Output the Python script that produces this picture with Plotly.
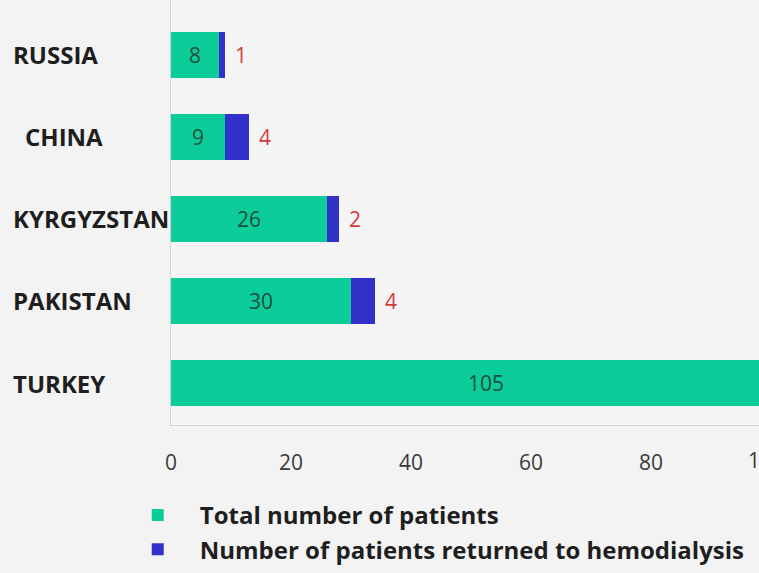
"""Kidney transplant patients by country - horizontal stacked bar"""

import plotly.graph_objects as go

# data (bottom -> top)
countries = ["TURKEY", "PAKISTAN", "KYRGYZSTAN", "CHINA", "RUSSIA"]
total_patients = [105, 30, 26, 9, 8]
returned_hd = [0, 4, 2, 4, 1]
x_ticks = [0, 20, 40, 60, 80, 100]

GREEN = "#0ccd9a"
BLUE = "#3131c9"
BG = "#f3f3f3"
FONT = "Open Sans"
X_MAX = 98  # chart is cut off at the right edge

fig = go.Figure()

fig.add_trace(
    go.Bar(
        y=countries,
        x=total_patients,
        orientation="h",
        name="Total number of patients",
        marker=dict(color=GREEN, line=dict(width=0)),
        text=[str(v) for v in total_patients],
        textposition="inside",
        insidetextanchor="middle",
        insidetextfont=dict(family=FONT, size=21, color="#1d4f3e"),
        width=0.56,
    )
)
fig.add_trace(
    go.Bar(
        y=countries,
        x=returned_hd,
        orientation="h",
        name="Number of patients returned to hemodialysis",
        marker=dict(color=BLUE, line=dict(width=0)),
        width=0.56,
    )
)

# red counts right of the stacked bars
for c, t, r in zip(countries, total_patients, returned_hd):
    if r > 0:
        fig.add_annotation(
            x=t + r, y=c, xref="x", yref="y",
            text=str(r), showarrow=False,
            xanchor="left", xshift=8,
            font=dict(family=FONT, size=21, color="#d43c3c"),
        )

# country labels, left aligned
for c in countries:
    fig.add_annotation(
        x=-0.272, y=c, xref="paper", yref="y",
        text=f"<b>{c}</b>", showarrow=False,
        xanchor="left", xshift=(12 if c == "CHINA" else 0),
        font=dict(family=FONT, size=24, color="#1e1e1e"),
    )

# tick labels that fall past the cut-off edge (partly visible, as in the source)
for t in x_ticks:
    if t > X_MAX:
        fig.add_annotation(
            x=t / X_MAX, y=0, xref="paper", yref="paper",
            text=str(t), showarrow=False,
            xanchor="center", yanchor="top", xshift=-5, yshift=-19,
            font=dict(family=FONT, size=21, color="#3a3a3a"),
        )

fig.update_layout(
    width=759,
    height=573,
    barmode="stack",
    paper_bgcolor=BG,
    plot_bgcolor="#f5f5f5",
    margin=dict(l=171, r=0, t=0, b=148),
    showlegend=True,
    legend=dict(
        x=-0.094, y=-0.16, xanchor="left", yanchor="top",
        traceorder="normal",
        itemwidth=74,
        bgcolor="rgba(0,0,0,0)",
        font=dict(family=FONT, size=24, color="#1e1e1e", weight=700),
        tracegroupgap=0,
    ),
    font=dict(family=FONT),
)
fig.update_xaxes(
    range=[0, X_MAX],
    tickvals=x_ticks,
    showgrid=False,
    zeroline=False,
    showline=True,
    linecolor="#d4d4d4",
    linewidth=1,
    ticklabelstandoff=19,
    tickfont=dict(family=FONT, size=21, color="#3a3a3a"),
)
fig.update_yaxes(
    range=[-0.512, 4.67],
    showticklabels=False,
    showgrid=False,
    zeroline=False,
    showline=True,
    linecolor="#d4d4d4",
    linewidth=1,
)

fig.write_html(
    "out.html",
    config={"displayModeBar": False},
    post_script="document.body.style.margin='0';document.body.style.overflow='hidden';",
)
